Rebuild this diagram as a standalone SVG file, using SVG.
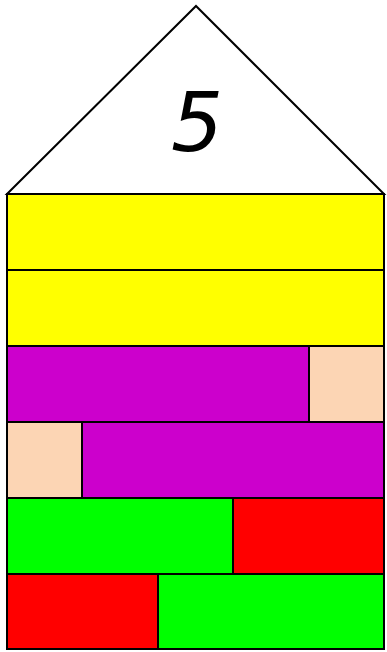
<svg xmlns="http://www.w3.org/2000/svg" width="387" height="652" viewBox="0 0 387 652">
<style>
.b{stroke:#000;stroke-width:2}
.y{fill:#ffff00}.p{fill:#cc00cc}.s{fill:#fcd5b4}.g{fill:#00ff00}.r{fill:#ff0000}
</style>
<rect width="387" height="652" fill="#fff"/>
<g id="roof">
<polygon class="b" points="7,194 196,6 384,194" fill="#fff" stroke-width="1.5"/>
<text x="197" y="151" font-family="DejaVu Sans, sans-serif" font-style="italic" font-size="82" text-anchor="middle">5</text>
</g>
<g id="row1"><rect class="b y" x="7" y="194" width="377" height="76"/></g>
<g id="row2"><rect class="b y" x="7" y="270" width="377" height="76"/></g>
<g id="row3"><rect class="b p" x="7" y="346" width="302" height="76"/><rect class="b s" x="309" y="346" width="75" height="76"/></g>
<g id="row4"><rect class="b s" x="7" y="422" width="75" height="76"/><rect class="b p" x="82" y="422" width="302" height="76"/></g>
<g id="row5"><rect class="b g" x="7" y="498" width="226" height="76"/><rect class="b r" x="233" y="498" width="151" height="76"/></g>
<g id="row6"><rect class="b r" x="7" y="574" width="151" height="75"/><rect class="b g" x="158" y="574" width="226" height="75"/></g>
<g id="connectors"/>
</svg>
